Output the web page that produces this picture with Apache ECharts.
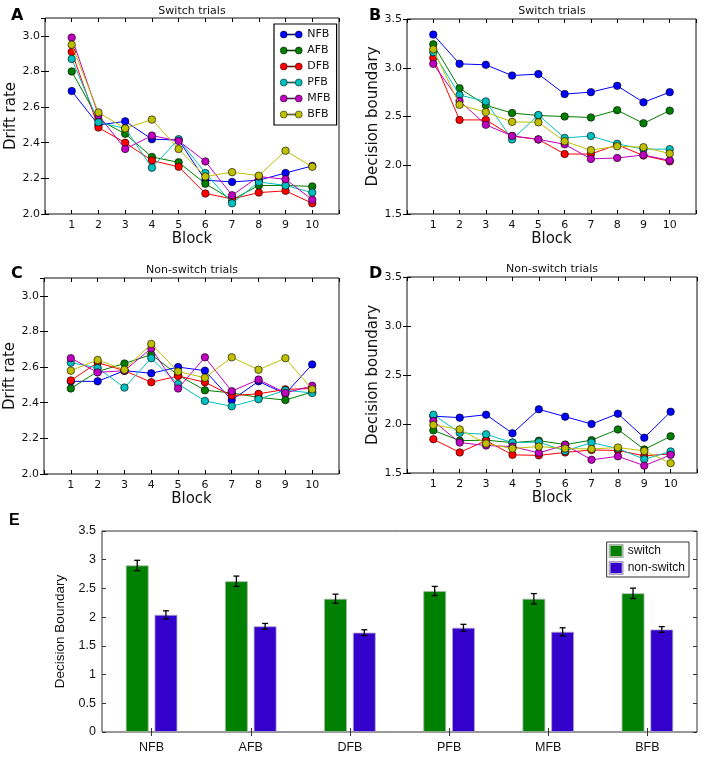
<!DOCTYPE html>
<html>
<head>
<meta charset="utf-8">
<script src="https://cdn.jsdelivr.net/npm/echarts@6/dist/echarts.min.js"></script>
<style>html,body{margin:0;padding:0;background:#fff}#c{width:708px;height:759px}</style>
</head>
<body>
<div id="c"></div>
<script>
// ---------- data ----------
const blocks = [1, 2, 3, 4, 5, 6, 7, 8, 9, 10];
const conditions = ['NFB', 'AFB', 'DFB', 'PFB', 'MFB', 'BFB'];
const yTicksDrift = [2.0, 2.2, 2.4, 2.6, 2.8, 3.0];
const yTicksBoundary = [1.5, 2.0, 2.5, 3.0, 3.5];
const yTicksBar = [0, 0.5, 1, 1.5, 2, 2.5, 3, 3.5];

// A: drift rate, switch trials
const driftSwitchNFB = [2.69, 2.50, 2.52, 2.42, 2.415, 2.19, 2.18, 2.19, 2.23, 2.27];
const driftSwitchAFB = [2.80, 2.53, 2.45, 2.32, 2.29, 2.17, 2.08, 2.16, 2.16, 2.155];
const driftSwitchDFB = [2.91, 2.485, 2.40, 2.30, 2.265, 2.115, 2.085, 2.12, 2.13, 2.06];
const driftSwitchPFB = [2.87, 2.515, 2.48, 2.26, 2.42, 2.23, 2.06, 2.18, 2.16, 2.12];
const driftSwitchMFB = [2.99, 2.555, 2.365, 2.44, 2.41, 2.295, 2.105, 2.21, 2.195, 2.08];
const driftSwitchBFB = [2.95, 2.57, 2.48, 2.53, 2.365, 2.21, 2.235, 2.215, 2.355, 2.265];

// B: decision boundary, switch trials
const boundSwitchNFB = [3.34, 3.04, 3.03, 2.92, 2.935, 2.73, 2.75, 2.815, 2.645, 2.75];
const boundSwitchAFB = [3.24, 2.79, 2.615, 2.535, 2.51, 2.50, 2.49, 2.565, 2.43, 2.56];
const boundSwitchDFB = [3.10, 2.465, 2.465, 2.30, 2.265, 2.115, 2.115, 2.21, 2.10, 2.04];
const boundSwitchPFB = [3.16, 2.72, 2.655, 2.265, 2.515, 2.28, 2.30, 2.22, 2.165, 2.165];
const boundSwitchMFB = [3.04, 2.66, 2.415, 2.30, 2.265, 2.215, 2.065, 2.075, 2.105, 2.05];
const boundSwitchBFB = [3.19, 2.62, 2.545, 2.445, 2.44, 2.245, 2.155, 2.195, 2.185, 2.12];

// C: drift rate, non-switch trials
const driftNonNFB = [2.52, 2.52, 2.58, 2.565, 2.60, 2.58, 2.415, 2.52, 2.45, 2.615];
const driftNonAFB = [2.48, 2.575, 2.62, 2.67, 2.555, 2.47, 2.455, 2.43, 2.415, 2.46];
const driftNonDFB = [2.525, 2.625, 2.58, 2.515, 2.55, 2.515, 2.44, 2.45, 2.475, 2.48];
const driftNonPFB = [2.625, 2.595, 2.485, 2.65, 2.505, 2.41, 2.38, 2.42, 2.47, 2.455];
const driftNonMFB = [2.65, 2.57, 2.58, 2.705, 2.48, 2.655, 2.465, 2.53, 2.455, 2.495];
const driftNonBFB = [2.58, 2.64, 2.585, 2.73, 2.575, 2.54, 2.655, 2.585, 2.65, 2.475];

// D: decision boundary, non-switch trials
const boundNonNFB = [2.08, 2.065, 2.095, 1.905, 2.15, 2.075, 2.00, 2.105, 1.86, 2.125];
const boundNonAFB = [1.935, 1.83, 1.835, 1.81, 1.83, 1.79, 1.835, 1.945, 1.74, 1.875];
const boundNonDFB = [1.845, 1.71, 1.83, 1.685, 1.68, 1.71, 1.735, 1.73, 1.675, 1.695];
const boundNonPFB = [2.095, 1.91, 1.895, 1.81, 1.815, 1.725, 1.81, 1.75, 1.64, 1.72];
const boundNonMFB = [2.03, 1.81, 1.78, 1.77, 1.705, 1.785, 1.635, 1.67, 1.575, 1.685];
const boundNonBFB = [1.99, 1.945, 1.80, 1.75, 1.77, 1.75, 1.745, 1.76, 1.725, 1.60];

// E: mean decision boundary per condition
const barSwitch = [2.90, 2.625, 2.32, 2.455, 2.32, 2.415];
const barSwitchErr = [0.09, 0.09, 0.08, 0.08, 0.09, 0.09];
const barNonSwitch = [2.04, 1.84, 1.73, 1.815, 1.745, 1.785];
const barNonSwitchErr = [0.07, 0.05, 0.05, 0.06, 0.07, 0.05];

// ---------- styling ----------
const lineColors = ['#0000ff', '#007f00', '#ff0000', '#00bfbf', '#bf00bf', '#bfbf00'];
const MPL_FONT = 'DejaVu Sans';
const ML_FONT = 'Liberation Sans';
const legendIcon = 'path://M0,3.5a3.5,3.5 0 1,0 7,0a3.5,3.5 0 1,0 -7,0zM15,3.5a3.5,3.5 0 1,0 7,0a3.5,3.5 0 1,0 -7,0zM7,3h8v1h-8z';

const panels = [
  {grid: {left: 45, top: 18, width: 294, height: 196}, yMin: 2.0, yMax: 3.1, yInt: 0.2, yName: 'Drift rate', nameGap: 23,
   data: [driftSwitchNFB, driftSwitchAFB, driftSwitchDFB, driftSwitchPFB, driftSwitchMFB, driftSwitchBFB]},
  {grid: {left: 407, top: 19, width: 289, height: 195}, yMin: 1.5, yMax: 3.5, yInt: 0.5, yName: 'Decision boundary', nameGap: 25,
   data: [boundSwitchNFB, boundSwitchAFB, boundSwitchDFB, boundSwitchPFB, boundSwitchMFB, boundSwitchBFB]},
  {grid: {left: 44, top: 278, width: 295, height: 196}, yMin: 2.0, yMax: 3.1, yInt: 0.2, yName: 'Drift rate', nameGap: 23,
   data: [driftNonNFB, driftNonAFB, driftNonDFB, driftNonPFB, driftNonMFB, driftNonBFB]},
  {grid: {left: 407, top: 277, width: 290, height: 196}, yMin: 1.5, yMax: 3.5, yInt: 0.5, yName: 'Decision boundary', nameGap: 25,
   data: [boundNonNFB, boundNonAFB, boundNonDFB, boundNonPFB, boundNonMFB, boundNonBFB]}
];

const grids = [], xAxes = [], yAxes = [], series = [];
const tickStyle = {show: true, inside: true, length: 4, lineStyle: {color: '#000', width: 1}};

panels.forEach((p, pi) => {
  grids.push(Object.assign({show: true, borderColor: '#111', borderWidth: 1, backgroundColor: '#fff'}, p.grid));
  xAxes.push({
    gridIndex: pi, type: 'value', min: 0, max: 11, interval: 1, position: 'bottom',
    axisLine: {show: false}, splitLine: {show: false}, axisTick: tickStyle,
    axisLabel: {color: '#111', fontSize: 11, fontFamily: MPL_FONT, margin: 6,
      formatter: v => (v >= 1 && v <= 10) ? String(v) : ''},
    name: 'Block', nameLocation: 'middle', nameGap: 17,
    nameTextStyle: {fontSize: 15, fontFamily: MPL_FONT, color: '#111'}
  });
  xAxes.push({
    gridIndex: pi, type: 'value', min: 0, max: 11, interval: 1, position: 'top',
    axisLine: {show: false}, splitLine: {show: false}, axisTick: tickStyle, axisLabel: {show: false}
  });
  yAxes.push({
    gridIndex: pi, type: 'value', min: p.yMin, max: p.yMax, interval: p.yInt, position: 'left',
    axisLine: {show: false}, splitLine: {show: false}, axisTick: tickStyle,
    axisLabel: {color: '#111', fontSize: 11, fontFamily: MPL_FONT, margin: 5, showMaxLabel: p.yMax === 3.5,
      formatter: v => v.toFixed(1)},
    name: p.yName, nameLocation: 'middle', nameGap: p.nameGap,
    nameTextStyle: {fontSize: 15, fontFamily: MPL_FONT, color: '#111'}
  });
  yAxes.push({
    gridIndex: pi, type: 'value', min: p.yMin, max: p.yMax, interval: p.yInt, position: 'right',
    axisLine: {show: false}, splitLine: {show: false}, axisTick: tickStyle, axisLabel: {show: false}
  });
  conditions.forEach((c, ci) => {
    series.push({
      type: 'line', name: c, xAxisIndex: pi * 2, yAxisIndex: pi * 2,
      data: blocks.map((b, i) => [b, p.data[ci][i]]),
      symbol: 'circle', symbolSize: 7.5, showSymbol: true,
      lineStyle: {color: lineColors[ci], width: 1},
      itemStyle: {color: lineColors[ci], borderColor: '#000', borderWidth: 0.6},
      emphasis: {disabled: true}, animation: false, z: 2 + ci * 0.01
    });
  });
});

// Panel E
grids.push({show: true, left: 102, top: 531, width: 595, height: 201, borderColor: '#333', borderWidth: 1, backgroundColor: '#fff'});
xAxes.push({
  gridIndex: 4, type: 'category', data: conditions, position: 'bottom',
  axisLine: {show: false}, splitLine: {show: false},
  axisTick: {show: true, inside: true, alignWithLabel: true, length: 4, lineStyle: {color: '#333'}},
  axisLabel: {color: '#111', fontSize: 12.5, fontFamily: ML_FONT, margin: 9}
});
xAxes.push({
  gridIndex: 4, type: 'category', data: conditions, position: 'top',
  axisLine: {show: false}, splitLine: {show: false},
  axisTick: {show: true, inside: true, alignWithLabel: true, length: 4, lineStyle: {color: '#333'}},
  axisLabel: {show: false}
});
yAxes.push({
  gridIndex: 4, type: 'value', min: 0, max: 3.5, interval: 0.5, position: 'left',
  axisLine: {show: false}, splitLine: {show: false},
  axisTick: {show: true, inside: true, length: 4, lineStyle: {color: '#333'}},
  axisLabel: {color: '#111', fontSize: 12.5, fontFamily: ML_FONT, margin: 6, formatter: v => String(v)},
  name: 'Decision Boundary', nameLocation: 'middle', nameGap: 27,
  nameTextStyle: {fontSize: 13.5, fontFamily: ML_FONT, color: '#111'}
});
yAxes.push({
  gridIndex: 4, type: 'value', min: 0, max: 3.5, interval: 0.5, position: 'right',
  axisLine: {show: false}, splitLine: {show: false},
  axisTick: {show: true, inside: true, length: 4, lineStyle: {color: '#333'}},
  axisLabel: {show: false}
});

const BAR_W = 0.23, BAR_GAP = 0.26;
const barOffset = BAR_W * (1 + BAR_GAP) / 2;
series.push({
  type: 'bar', name: 'switch', xAxisIndex: 8, yAxisIndex: 8, data: barSwitch,
  barWidth: (BAR_W * 100) + '%', barGap: (BAR_GAP * 100) + '%',
  itemStyle: {color: '#008000', borderColor: '#a8b8a8', borderWidth: 0.8}, animation: false
});
series.push({
  type: 'bar', name: 'non-switch', xAxisIndex: 8, yAxisIndex: 8, data: barNonSwitch,
  barWidth: (BAR_W * 100) + '%', barGap: (BAR_GAP * 100) + '%',
  itemStyle: {color: '#3300cc', borderColor: '#b0a8c8', borderWidth: 0.8}, animation: false
});
function errSeries(vals, errs, sign) {
  return {
    type: 'custom', xAxisIndex: 8, yAxisIndex: 8, z: 5, animation: false,
    data: vals.map((v, i) => [i, v, errs[i]]),
    renderItem: (params, api) => {
      const i = api.value(0), v = api.value(1), e = api.value(2);
      const band = api.size([1, 0])[0];
      const top = api.coord([i, v + e]);
      const bot = api.coord([i, v - e]);
      const x = top[0] + sign * band * barOffset;
      const cap = 3;
      const st = {stroke: '#000', lineWidth: 1.3};
      return {type: 'group', children: [
        {type: 'line', shape: {x1: x, y1: top[1], x2: x, y2: bot[1]}, style: st},
        {type: 'line', shape: {x1: x - cap, y1: top[1], x2: x + cap, y2: top[1]}, style: st},
        {type: 'line', shape: {x1: x - cap, y1: bot[1], x2: x + cap, y2: bot[1]}, style: st}
      ]};
    }
  };
}
series.push(errSeries(barSwitch, barSwitchErr, -1));
series.push(errSeries(barNonSwitch, barNonSwitchErr, 1));

const letters = [['A', 11, 8], ['B', 369, 8], ['C', 11, 266], ['D', 369, 266], ['E', 9, 513]];
const titles = [['Switch trials', 192, 11], ['Switch trials', 552, 11], ['Non-switch trials', 192, 270], ['Non-switch trials', 552, 269]];
const graphics = [];
letters.forEach(([t, x, y]) => graphics.push({type: 'text', left: x, top: y,
  style: {text: t, font: 'bold 16px "' + (t === 'E' ? ML_FONT : MPL_FONT) + '"', fill: '#000'}}));
titles.forEach(([t, x, y]) => graphics.push({type: 'text', x: x, y: y,
  style: {text: t, font: '11px "' + MPL_FONT + '"', fill: '#111', textAlign: 'center', textVerticalAlign: 'middle'}}));

const chart = echarts.init(document.getElementById('c'), null, {renderer: 'canvas'});
chart.setOption({
  animation: false,
  grid: grids, xAxis: xAxes, yAxis: yAxes, series: series, graphic: graphics,
  legend: [
    {data: conditions.map(c => ({name: c, icon: legendIcon})), orient: 'vertical', left: 274, top: 24,
     itemWidth: 22, itemHeight: 7, itemGap: 5, itemTextGap: 6,
     itemStyle: {borderColor: '#000', borderWidth: 0.5},
     padding: [5, 6, 5, 6], borderColor: '#000', borderWidth: 1.2, backgroundColor: '#fff',
     textStyle: {fontSize: 11, fontFamily: MPL_FONT, color: '#111'}, selectedMode: false},
    {data: ['switch', 'non-switch'], orient: 'vertical', right: 19, top: 542, itemWidth: 13, itemHeight: 12, itemGap: 3,
     padding: [2, 4, 2, 2], borderColor: '#333', borderWidth: 1, backgroundColor: '#fff', icon: 'rect',
     textStyle: {fontSize: 12, fontFamily: ML_FONT, color: '#111'}, itemTextGap: 2, selectedMode: false}
  ]
});
</script>
</body>
</html>
